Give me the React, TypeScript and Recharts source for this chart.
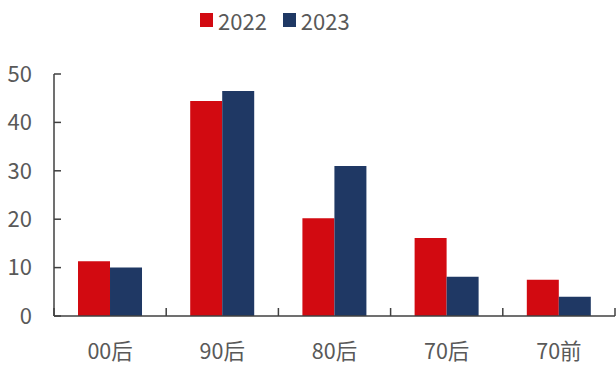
import React from 'react';
import { BarChart, Bar, XAxis, YAxis, Legend } from 'recharts';

const categories = ['00后', '90后', '80后', '70后', '70前'];
const series2022 = [11.3, 44.4, 20.2, 16.1, 7.5];
const series2023 = [10.0, 46.5, 31.0, 8.1, 4.0];
const yTicks = [0, 10, 20, 30, 40, 50];
const seriesNames = ['2022', '2023'];

const data = categories.map((c, i) => ({
  name: c,
  a: series2022[i],
  b: series2023[i],
}));

const W = 616;
const H = 365;
const M = { top: 74, right: 1, left: 4, bottom: 0 };
const Y_W = 50;
const X_H = 49;
const PLOT_W = W - M.left - Y_W - M.right;
const BAND = PLOT_W / categories.length;
const FONT = '"Microsoft YaHei", "Noto Sans CJK SC", sans-serif';
const TEXT = '#595959';
const AXIS = '#404040';
const RED = '#D20A11';
const NAVY = '#1F3864';
const X_MARGIN = 35;

const XTick = (props: any) => {
  const { x, y, payload, index } = props;
  const axisY = y - X_MARGIN;
  const left = x - BAND / 2;
  const right = x + BAND / 2;
  return (
    <g>
      <line x1={left} y1={axisY} x2={left} y2={axisY - 8} stroke={AXIS} strokeWidth={1.5} />
      {index === categories.length - 1 && (
        <line x1={right} y1={axisY} x2={right} y2={axisY - 8} stroke={AXIS} strokeWidth={1.5} />
      )}
      <text x={x} y={y} dy="0.35em" textAnchor="middle" fill={TEXT} fontSize={21.5} fontFamily={FONT}>
        {payload.value}
      </text>
    </g>
  );
};

const LegendContent = () => (
  <div style={{ display: 'flex', alignItems: 'center', fontFamily: FONT, fontSize: 22, color: TEXT, lineHeight: '26px' }}>
    <span style={{ display: 'inline-block', width: 13, height: 14, background: RED, marginRight: 5 }} />
    <span>{seriesNames[0]}</span>
    <span style={{ display: 'inline-block', width: 13, height: 14, background: NAVY, marginLeft: 16, marginRight: 5 }} />
    <span>{seriesNames[1]}</span>
  </div>
);

export default function App() {
  return (
    <div style={{ position: 'absolute', left: 0, top: 0, width: W, height: H, background: '#fff' }}>
      <BarChart width={W} height={H} data={data} margin={M} barCategoryGap="21.4%" barGap={0}>
        <Legend
          layout="horizontal"
          verticalAlign="middle"
          align="center"
          content={<LegendContent />}
          wrapperStyle={{ left: 200, top: 7, width: 'auto' }}
        />
        <XAxis
          dataKey="name"
          height={X_H}
          tickLine={false}
          tickSize={0}
          tickMargin={X_MARGIN}
          axisLine={{ stroke: AXIS, strokeWidth: 1.5 }}
          tick={<XTick />}
          interval={0}
        />
        <YAxis
          width={Y_W}
          domain={[0, 50]}
          ticks={yTicks}
          interval={0}
          tickSize={-7}
          tickMargin={29}
          tickLine={{ stroke: AXIS, strokeWidth: 1.5 }}
          axisLine={{ stroke: AXIS, strokeWidth: 1.5 }}
          tick={{ fill: TEXT, fontSize: 22, fontFamily: FONT }}
        />
        <Bar dataKey="a" name={seriesNames[0]} fill={RED} isAnimationActive={false} />
        <Bar dataKey="b" name={seriesNames[1]} fill={NAVY} isAnimationActive={false} />
      </BarChart>
    </div>
  );
}
